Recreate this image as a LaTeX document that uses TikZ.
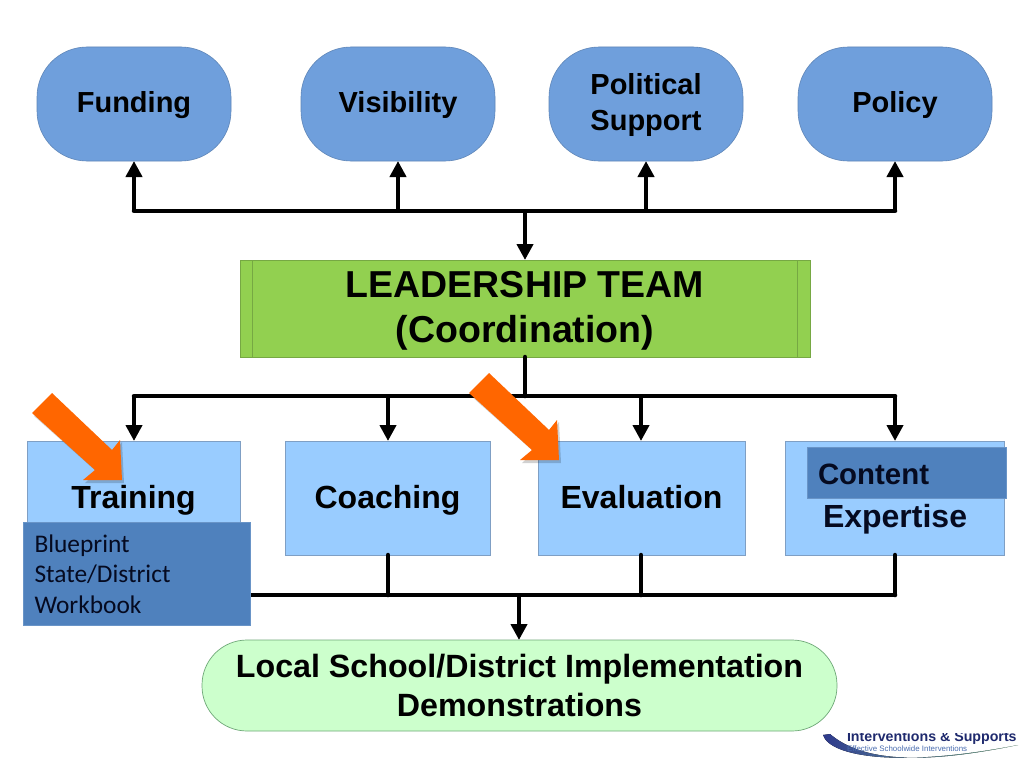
\documentclass[tikz,border=0pt]{standalone}
\usepackage{fontspec}
\setmainfont{Liberation Sans}
\newfontfamily\carlito{Carlito}
\usetikzlibrary{arrows.meta,positioning,calc}
\definecolor{topblue}{HTML}{6F9FDC}
\definecolor{topedge}{HTML}{5F86B8}
\definecolor{leadgreen}{HTML}{92D050}
\definecolor{leadedge}{HTML}{76A843}
\definecolor{lightblue}{HTML}{99CCFF}
\definecolor{lightedge}{HTML}{7F9FC4}
\definecolor{darkblue}{HTML}{4F81BD}
\definecolor{paleg}{HTML}{CCFFCC}
\definecolor{paleedge}{HTML}{6FA878}
\definecolor{orangearrow}{HTML}{FF6600}
\definecolor{navytext}{HTML}{050A20}
\definecolor{logonavy}{HTML}{2E3A8C}
\definecolor{logogreen}{HTML}{7FC8A0}
\definecolor{logotext}{HTML}{1F2A6E}
\definecolor{logoblue}{HTML}{4A6DB0}
\tikzset{
  every node/.style={outer sep=0pt,inner sep=0pt},
  topbox/.style={draw=topedge,line width=.6pt,fill=topblue,rounded corners=50pt,minimum width=194pt,minimum height=114pt,font=\bfseries\fontsize{29}{36}\selectfont,align=center},
  leadbox/.style={draw=leadedge,line width=.7pt,fill=leadgreen,minimum width=570pt,minimum height=97pt,font=\bfseries\fontsize{37.5}{45}\selectfont,align=center},
  midbox/.style={draw=lightedge,line width=.7pt,fill=lightblue,minimum height=114pt,font=\bfseries\fontsize{32}{38}\selectfont,align=center,text height=25pt,text depth=5pt},
  darkbox/.style={fill=darkblue,draw=darkblue!85!white,line width=.4pt},
  botbox/.style={draw=paleedge,line width=.7pt,fill=paleg,rounded corners=45pt,minimum width=635pt,minimum height=91pt,font=\bfseries\fontsize{32.2}{39}\selectfont,align=center},
  bus/.style={line width=4.5pt,black,line cap=round,line join=round},
  tip/.style={bus,line cap=butt,-{Triangle[width=16pt,length=16pt]}},
  orangeshape/.style={fill=orangearrow},
  shadowshape/.style={fill=black,opacity=.18}
}
\begin{document}
\begin{tikzpicture}[x=1pt,y=-1pt]
\useasboundingbox (0,0) rectangle (1024,768);
\fill[white] (0,0) rectangle (1024,768);
% top row
\node[topbox] (funding) at (134,104) {\rule{0pt}{24pt}Funding};
\node[topbox] (visibility) at (398,104) {\rule{0pt}{24pt}Visibility};
\node[topbox] (political) at (646,104) {\rule{0pt}{24pt}Political\\Support};
\node[topbox] (policy) at (895,104) {\rule{0pt}{24pt}Policy};
% leadership
\node[leadbox] (lead) at (525,308.5) {\rule{0pt}{31pt}LEADERSHIP TEAM\\(Coordination)};
\draw[leadedge,line width=.7pt] ([xshift=12pt]lead.north west) -- ([xshift=12pt]lead.south west);
\draw[leadedge,line width=.7pt] ([xshift=-13pt]lead.north east) -- ([xshift=-13pt]lead.south east);
% middle row
\node[midbox,minimum width=213pt] (training) at (133.5,498) {};
\node[midbox,minimum width=205pt] (coaching) at (387.5,498) {Coaching};
\node[midbox,minimum width=207pt] (evaluation) at (641.5,498) {Evaluation};
\node[midbox,minimum width=219pt] (expertise) at (894.5,498) {};
% bottom
\node[botbox] (local) at (519.5,685.5) {Local School/District Implementation\\Demonstrations};
% bus junctions
\coordinate (t0) at (134,211);
\coordinate (t1) at (398,211);
\coordinate (tc) at (525,211);
\coordinate (t2) at (646,211);
\coordinate (t3) at (895,211);
\coordinate (m0) at (134,396);
\coordinate (m1) at (388,396);
\coordinate (mc) at (525,396);
\coordinate (m2) at (641,396);
\coordinate (m3) at (895,396);
\coordinate (b0) at (251,595);
\coordinate (b1) at (388,595);
\coordinate (bc) at (519,595);
\coordinate (b2) at (641,595);
\coordinate (b3) at (895,595);
% top connectors
\draw[bus] (t0) -- (t3);
\draw[tip] (t0) -- (funding.south);
\draw[tip] (t1) -- (visibility.south);
\draw[tip] (t2) -- (political.south);
\draw[tip] (t3) -- (policy.south);
\draw[tip] (tc) -- (tc |- lead.north);
% middle connectors
\draw[bus] (m0) -- (m3);
\draw[bus] (mc) -- (mc |- lead.south);
\draw[tip] (m0) -- (m0 |- training.north);
\draw[tip] (m1) -- (m1 |- coaching.north);
\draw[tip] (m2) -- (m2 |- evaluation.north);
\draw[tip] (m3) -- (m3 |- expertise.north);
% bottom connectors
\draw[bus] (b0) -- (b3);
\draw[bus] (b1) -- (b1 |- coaching.south);
\draw[bus] (b2) -- (b2 |- evaluation.south);
\draw[bus] (b3) -- (b3 |- expertise.south);
\draw[tip] (bc) -- (bc |- local.north);
% dark boxes
\node[darkbox,minimum width=227pt,minimum height=103pt,anchor=north west,align=left,text width=217pt,font=\carlito\fontsize{25.4}{30.3}\selectfont,text=navytext] (blueprint) at (23.5,522.5) {\hspace*{6pt}Blueprint\\\hspace*{6pt}State/District\\\hspace*{6pt}Workbook};
\node[darkbox,minimum width=199pt,minimum height=51pt,anchor=north west] (contentbox) at (807.5,447.5) {};
\node[font=\bfseries\fontsize{29.4}{35}\selectfont,text=navytext,anchor=west] (contenttxt) at (818,474) {Content};
\node[font=\bfseries\fontsize{32}{38}\selectfont,text=navytext,anchor=west] (experttxt) at (823,519) {Expertise};
% orange arrows
\foreach \dx/\dy in {0/0,437/-20}{
  \begin{scope}[shift={(\dx,\dy)}]
  \fill[shadowshape] (54,396) -- (114,452) -- (122,442) -- (124,483) -- (85,483) -- (97,472) -- (34,416) -- cycle;
  \fill[orangeshape] (52,393) -- (112,450) -- (120,440) -- (122,480) -- (83,480) -- (95,470) -- (32,413) -- cycle;
  \end{scope}
}
\node[font=\bfseries\fontsize{32}{38}\selectfont,text height=25pt,text depth=5pt] (trainingtxt) at (133.5,498) {Training};
% logo
\fill[left color=logonavy,middle color=logonavy!70!logogreen,right color=logogreen] (823,735) .. controls (830,757) and (900,768) .. (1018,745) .. controls (930,763) and (865,764) .. (830,734) -- cycle;
\begin{scope}
\clip (840,733) rectangle (1024,768);
\node[anchor=base west,font=\bfseries\fontsize{14.2}{16}\selectfont,text=logotext] (logoa) at (847,741) {Interventions \& Supports};
\end{scope}
\node[anchor=base west,font=\fontsize{7.9}{9}\selectfont,text=logoblue] (logob) at (847,751) {Effective Schoolwide Interventions};
\end{tikzpicture}
\end{document}
